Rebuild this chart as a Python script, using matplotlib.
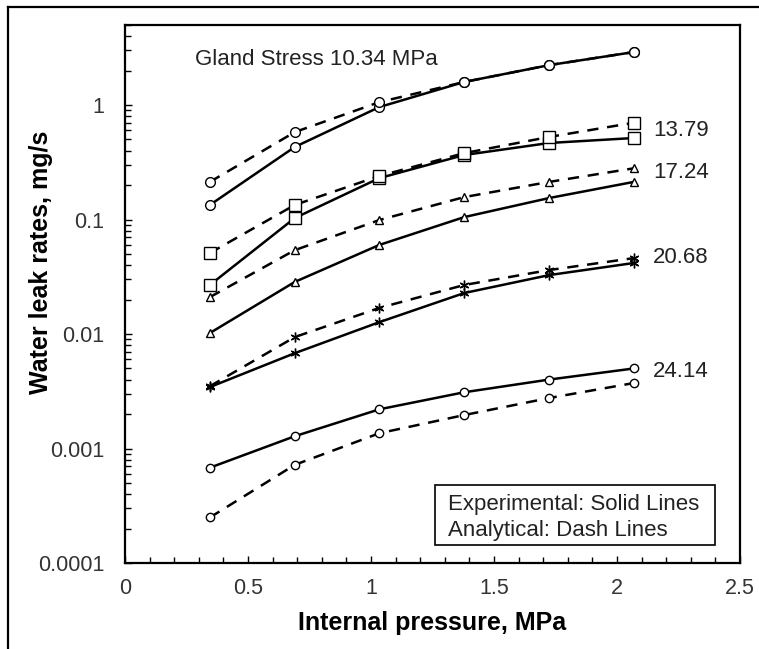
import numpy as np
import matplotlib
matplotlib.use('Agg')
import matplotlib.pyplot as plt
from matplotlib.lines import Line2D
from matplotlib.patches import Rectangle
from matplotlib.ticker import FixedLocator, FixedFormatter, MultipleLocator, LogLocator, NullFormatter

plt.rcParams['font.family'] = ['Liberation Sans', 'DejaVu Sans']

# internal pressure, MPa (50..300 psi)
pressure = [0.345, 0.69, 1.034, 1.379, 1.724, 2.068]

# gland stress labels
stress_labels = ['10.34', '13.79', '17.24', '20.68', '24.14']

# experimental (solid) leak rates, mg/s
exp_1034 = [0.134, 0.43, 0.96, 1.59, 2.23, 2.90]
exp_1379 = [0.0268, 0.103, 0.23, 0.366, 0.466, 0.515]
exp_1724 = [0.0102, 0.0285, 0.060, 0.105, 0.154, 0.213]
exp_2068 = [0.00344, 0.0068, 0.0127, 0.0228, 0.0327, 0.0417]
exp_2414 = [0.00068, 0.00128, 0.0022, 0.0031, 0.0040, 0.0050]

# analytical (dashed) leak rates, mg/s
ana_1034 = [0.213, 0.58, 1.06, 1.59, 2.23, 2.90]
ana_1379 = [0.051, 0.134, 0.24, 0.38, 0.526, 0.70]
ana_1724 = [0.021, 0.054, 0.099, 0.157, 0.213, 0.28]
ana_2068 = [0.0035, 0.0094, 0.0169, 0.0268, 0.0362, 0.046]
ana_2414 = [0.00025, 0.00072, 0.00136, 0.00196, 0.00276, 0.00373]

# where the stress labels sit (value on y axis)
label_y = [None, 0.605, 0.255, 0.047, 0.00466]

exp_sets = [exp_1034, exp_1379, exp_1724, exp_2068, exp_2414]
ana_sets = [ana_1034, ana_1379, ana_1724, ana_2068, ana_2414]
markers = ['o', 's', '^', (6, 2, 0), 'o']
msizes = [7, 8, 6, 7, 6]

fig = plt.figure(figsize=(7.59, 6.49), dpi=100)
ax = fig.add_axes([0.1647, 0.1325, 0.8103, 0.829])

for i in range(len(exp_sets)):
    ax.plot(pressure, exp_sets[i], c='k', lw=1.8, marker=markers[i], ms=msizes[i],
            mfc='white', mec='k', mew=1, zorder=3)
    ax.plot(pressure, ana_sets[i], c='k', lw=1.8, ls=(0, (4.5, 3.5)), marker=markers[i],
            ms=msizes[i], mfc='white', mec='k', mew=1, zorder=3)

ax.set_yscale('log')
ax.set_xlim(0, 2.5)
ax.set_ylim(0.0001, 5.0)

ax.yaxis.set_major_locator(FixedLocator([0.0001, 0.001, 0.01, 0.1, 1]))
ax.yaxis.set_major_formatter(FixedFormatter(['0.0001', '0.001', '0.01', '0.1', '1']))
ax.yaxis.set_minor_locator(LogLocator(base=10, subs=np.arange(2, 10)))
ax.yaxis.set_minor_formatter(NullFormatter())
ax.xaxis.set_minor_locator(MultipleLocator(0.1))
ax.set_xticks([0, 0.5, 1, 1.5, 2, 2.5])
ax.set_xticklabels(['0', '0.5', '1', '1.5', '2', '2.5'])

ax.tick_params(which='both', direction='in', width=1, colors='k', labelcolor='#333333',
               labelsize=15.5)
ax.tick_params(which='major', length=5)
ax.tick_params(which='minor', length=4)
ax.tick_params(axis='y', pad=15)
ax.tick_params(axis='x', pad=11)
for s in ax.spines.values():
    s.set_linewidth(1.6)

ax.set_xlabel('Internal pressure, MPa', fontsize=18, fontweight='bold')
ax.set_ylabel('Water leak rates, mg/s', fontsize=18, fontweight='bold')
ax.xaxis.set_label_coords(0.5, -0.089)
ax.yaxis.set_label_coords(-0.117, 0.559)

ax.text(0.285, 2.5, 'Gland Stress 10.34 MPa', fontsize=16, color='#222222', va='center')
for i in range(1, len(stress_labels)):
    ax.text(2.146, label_y[i], stress_labels[i], fontsize=16, color='#222222', va='center')

# note box
ax.add_patch(Rectangle((0.504, 0.0335), 0.455, 0.1115, transform=ax.transAxes,
                       fill=False, ec='k', lw=1.2, zorder=4))
ax.text(0.525, 0.108, 'Experimental: Solid Lines', transform=ax.transAxes,
        fontsize=16, color='#222222', va='center')
ax.text(0.525, 0.061, 'Analytical: Dash Lines', transform=ax.transAxes,
        fontsize=16, color='#222222', va='center')

# outer frame (top and left edges visible)
fig.add_artist(Line2D([0.0105, 1.0], [0.989, 0.989], transform=fig.transFigure, c='k', lw=1.6))
fig.add_artist(Line2D([0.0105, 0.0105], [0.0, 0.989], transform=fig.transFigure, c='k', lw=1.6))

fig.savefig('out.png', dpi=100)
